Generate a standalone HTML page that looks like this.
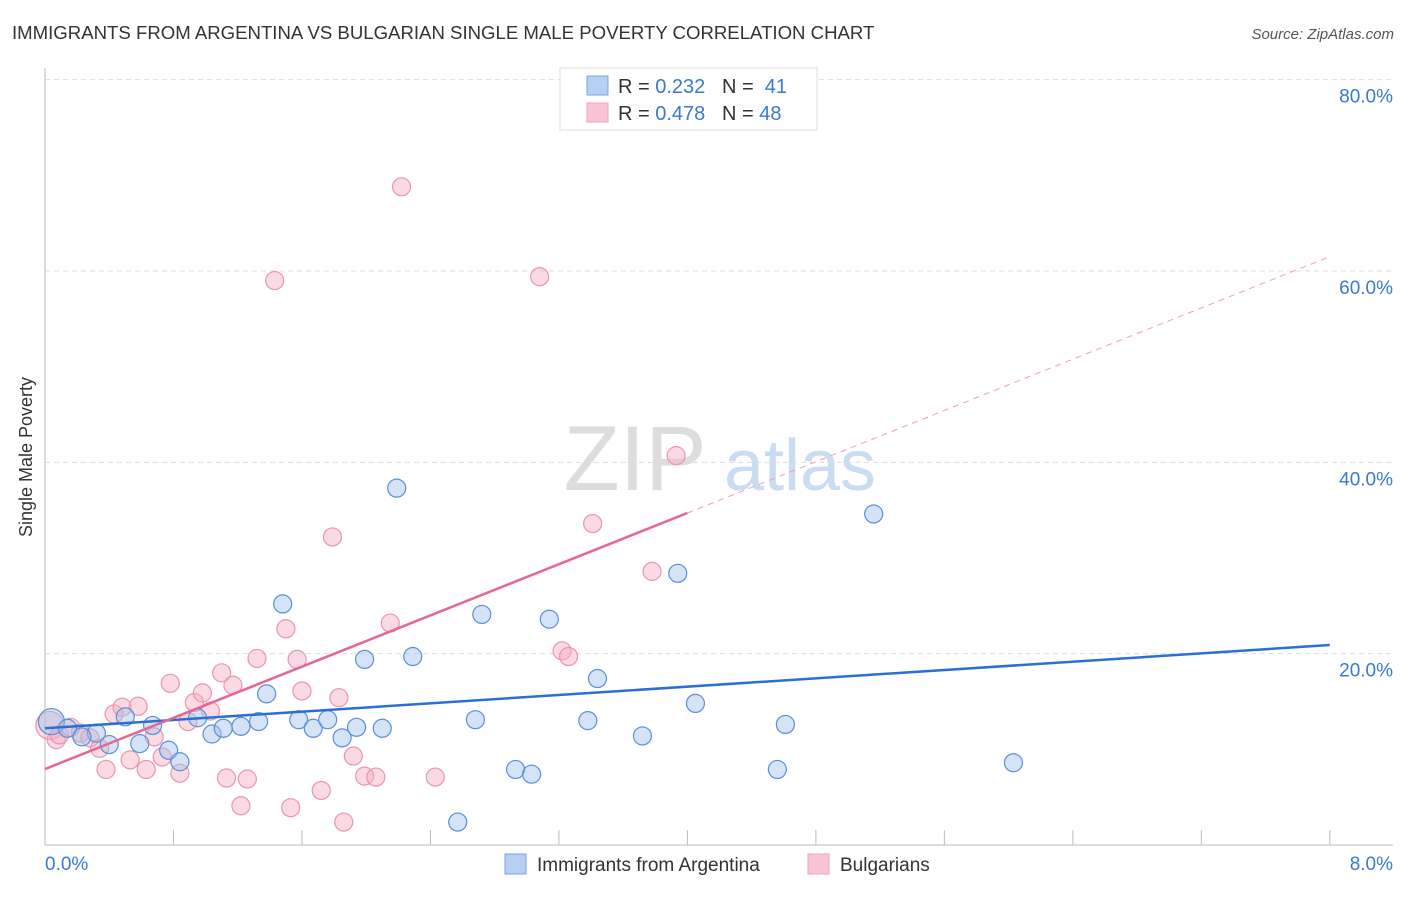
<!DOCTYPE html>
<html><head><meta charset="utf-8"><style>
body{margin:0;background:#fff;font-family:"Liberation Sans",sans-serif;}
svg text{font-family:"Liberation Sans",sans-serif;}
</style></head><body>
<svg id="c" width="1406" height="892" viewBox="0 0 1406 892">
<text x="12" y="39" font-size="18.6" fill="#333">IMMIGRANTS FROM ARGENTINA VS BULGARIAN SINGLE MALE POVERTY CORRELATION CHART</text>
<text x="1394" y="39" font-size="15" fill="#555" font-style="italic" text-anchor="end">Source: ZipAtlas.com</text>
<text x="32" y="457" font-size="18" fill="#333" text-anchor="middle" transform="rotate(-90 32 457)">Single Male Poverty</text>
<g><text x="635" y="490" font-size="92" fill="#ddd" font-family="Liberation Serif" text-anchor="middle">ZIP</text><text x="800" y="490" font-size="72" fill="#c9dcf2" text-anchor="middle">atlas</text></g>
<g id="grid"></g><g id="marks"></g>
<g>
<rect x="560" y="68" width="257" height="62" fill="#fff" stroke="#ddd"/>
<rect x="587" y="76" width="21" height="19" fill="#b5d0f2" stroke="#7aa5dc"/>
<rect x="587" y="103" width="21" height="19" fill="#f9c5d4" stroke="#eda0b8"/>
<text x="618" y="93" font-size="20" fill="#333">R = <tspan fill="#3a78d4">0.232</tspan>&#160;&#160;&#160;N = &#160;<tspan fill="#3a78d4">41</tspan></text>
<text x="618" y="120" font-size="20" fill="#333">R = <tspan fill="#3a78d4">0.478</tspan>&#160;&#160;&#160;N = <tspan fill="#3a78d4">48</tspan></text>
</g>
<g>
<rect x="505" y="854" width="21" height="20" fill="#b5d0f2" stroke="#7aa5dc"/>
<text x="537" y="871" font-size="19" fill="#333">Immigrants from Argentina</text>
<rect x="808" y="854" width="21" height="20" fill="#f9c5d4" stroke="#eda0b8"/>
<text x="840" y="871" font-size="19" fill="#333">Bulgarians</text>
</g>
</svg>
<script>
const xTicks=[0,8];
const yTicks=[20,40,60,80];
const blueX=[0.04,0.14,0.32,0.23,0.40,0.50,0.59,0.67,0.77,0.84,0.95,1.04,1.11,1.22,1.33,1.38,1.48,1.58,1.67,1.76,1.85,1.94,1.99,2.10,2.19,2.29,2.57,2.68,2.72,2.93,3.03,3.14,3.38,3.44,3.72,3.94,4.05,4.56,4.61,5.16,6.03];
const blueY=[12.9,12.2,11.7,11.3,10.5,13.4,10.6,12.5,9.9,8.7,13.3,11.6,12.2,12.4,12.9,15.8,25.2,13.1,12.2,13.1,11.2,12.3,19.4,12.2,37.3,19.7,2.4,13.1,24.1,7.9,7.4,23.6,13.0,17.4,11.4,28.4,14.8,7.9,12.6,34.6,8.6];
const pinkX=[0.03,0.07,0.09,0.16,0.22,0.28,0.34,0.38,0.43,0.48,0.53,0.58,0.63,0.68,0.73,0.78,0.84,0.89,0.93,0.98,1.03,1.10,1.13,1.17,1.22,1.26,1.32,1.43,1.50,1.53,1.57,1.60,1.72,1.79,1.83,1.86,1.92,1.99,2.06,2.15,2.22,2.43,3.08,3.22,3.26,3.41,3.78,3.93];
const pinkY=[12.5,11.0,11.5,12.3,11.7,11.2,10.1,7.9,13.7,14.4,8.9,14.5,7.9,11.3,9.2,16.9,7.5,12.9,14.9,15.9,14.0,18.0,7.0,16.7,4.1,6.9,19.5,59.0,22.6,3.9,19.4,16.1,5.7,32.2,15.4,2.4,9.3,7.2,7.1,23.2,68.8,7.1,59.4,20.3,19.7,33.6,28.6,40.7];
const blueTrend=[12.2,20.9];
const pinkTrend=[7.94,34.7,61.5];
const NS="http://www.w3.org/2000/svg";
const X=v=>45+v*160.6, Y=v=>845-v*9.567;
const grid=document.getElementById('grid'), marks=document.getElementById('marks');
function mk(tag,attrs,parent){const e=document.createElementNS(NS,tag);for(const k in attrs)e.setAttribute(k,attrs[k]);parent.appendChild(e);return e;}
let e;
e=mk('line',{x1:45,y1:68,x2:45,y2:845,stroke:'#bbb'},grid);


e=mk('line',{x1:45,y1:845,x2:1393,y2:845,stroke:'#bbb'},grid);


for(let i=1;i<=10;i++){e=mk('line',{x1:X(i*0.8),y1:830,x2:X(i*0.8),y2:845,stroke:'#bbb'},grid);

}
yTicks.forEach(t=>{e=mk('line',{x1:45,y1:Y(t),x2:1393,y2:Y(t),stroke:'#ddd','stroke-dasharray':'5,4'},grid);


e=mk('text',{x:1393,y:Y(t)+23,'font-size':19,fill:'#3a78d4','text-anchor':'end'},grid);e.textContent=t.toFixed(1)+'%';

});
xTicks.forEach((t,i)=>{e=mk('text',{x:i==0?45:1393,y:870,'font-size':19,fill:'#3a78d4','text-anchor':i==0?'start':'end'},grid);e.textContent=t.toFixed(1)+'%';

});
pinkX.forEach((x,i)=>{e=mk('circle',{cx:X(x),cy:Y(pinkY[i]),r:i==0?14:9,fill:'rgba(246,172,196,0.45)',stroke:'#e995b0','stroke-width':1.2},marks);

});
blueX.forEach((x,i)=>{e=mk('circle',{cx:X(x),cy:Y(blueY[i]),r:i==0?13:9,fill:'rgba(160,195,236,0.45)',stroke:'#5b8fd8','stroke-width':1.2},marks);

});
e=mk('line',{x1:X(0),y1:Y(blueTrend[0]),x2:X(8),y2:Y(blueTrend[1]),stroke:'#2a6fd6','stroke-width':2.5},marks);


e=mk('line',{x1:X(0),y1:Y(pinkTrend[0]),x2:X(4),y2:Y(pinkTrend[1]),stroke:'#e8668f','stroke-width':2.5},marks);


e=mk('line',{x1:X(4),y1:Y(pinkTrend[1]),x2:X(8),y2:Y(pinkTrend[2]),stroke:'#eba0b8','stroke-width':1,'stroke-dasharray':'6,5'},marks);


</script>
</body></html>
